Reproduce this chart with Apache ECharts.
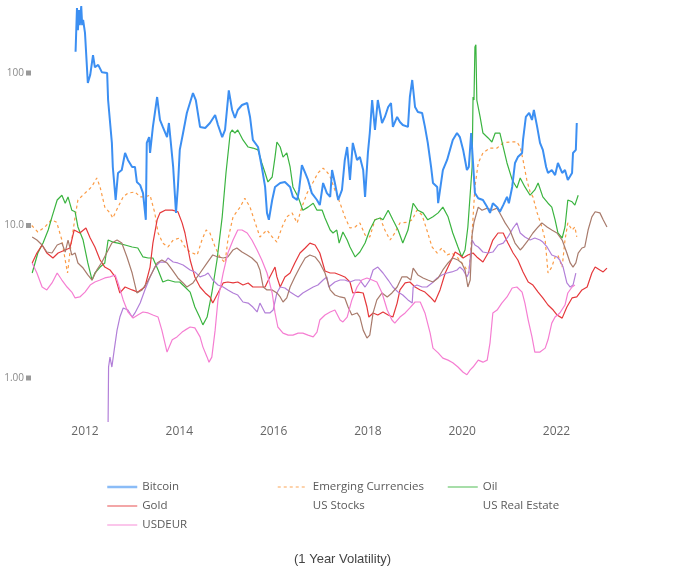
<!DOCTYPE html>
<html>
<head>
<meta charset="utf-8">
<script src="https://cdn.jsdelivr.net/npm/echarts@6/dist/echarts.min.js"></script>
<style>
html,body{margin:0;padding:0;background:#fff;}
#chart{width:686px;height:579px;}
</style>
</head>
<body>
<div id="chart"></div>
<script>
// ---- Data: [year, 1-year volatility] ----
const seriesNames = ['Bitcoin','Emerging Currencies','Oil','Gold','US Stocks','US Real Estate','USDEUR'];
const yTicks = [1, 10, 100];
const yTickLabels = ['1.00', '10.0', '100'];
const xTickYears = [2012, 2014, 2016, 2018, 2020, 2022];

const bitcoin = [
[2011.80,138],[2011.83,267],[2011.85,191],[2011.87,259],[2011.89,206],[2011.92,275],[2011.94,206],[2011.96,223],
[2012.00,183],[2012.06,86],[2012.11,97],[2012.17,131],[2012.21,109],[2012.28,113],[2012.36,101],[2012.47,100],
[2012.49,66.5],[2012.57,34.8],[2012.59,24.2],[2012.65,14.7],[2012.70,22.1],[2012.78,23.1],[2012.85,29.9],[2012.91,26.9],
[2013.00,24.2],[2013.06,24.2],[2013.10,19.3],[2013.17,18.4],[2013.23,16.3],[2013.29,10.9],[2013.31,34.8],[2013.36,38.0],
[2013.38,29.9],[2013.44,44.3],[2013.53,69.6],[2013.59,49.2],[2013.65,44.3],[2013.74,38.0],[2013.78,47.0],[2013.85,28.1],
[2013.87,24.2],[2013.93,12.1],[2013.97,17.9],[2014.01,31.3],[2014.08,40.4],[2014.16,54.7],[2014.29,73.9],[2014.35,66.5],
[2014.44,44.3],[2014.55,43.6],[2014.65,47.0],[2014.76,53.1],[2014.82,45.6],[2014.91,38.0],[2014.97,42.3],[2015.05,77],
[2015.12,57.2],[2015.18,50.7],[2015.24,57.2],[2015.33,61.7],[2015.44,63.6],[2015.50,51.5],[2015.56,36.4],[2015.67,32.7],
[2015.75,24.2],[2015.82,17.9],[2015.86,12.1],[2015.90,10.9],[2015.97,14.7],[2016.03,17.9],[2016.14,19.0],[2016.24,19.3],
[2016.35,17.9],[2016.41,15.4],[2016.50,14.7],[2016.54,17.1],[2016.60,24.9],[2016.67,22.1],[2016.73,19.9],[2016.81,16.3],
[2016.92,14.7],[2016.98,13.6],[2017.05,19.0],[2017.13,16.3],[2017.20,15.4],[2017.24,23.1],[2017.30,19.0],[2017.37,14.7],
[2017.45,17.1],[2017.51,26.9],[2017.56,32.7],[2017.62,19.9],[2017.68,34.8],[2017.77,26.9],[2017.83,28.1],[2017.90,23.1],
[2017.94,15.4],[2018.00,29.9],[2018.04,40.4],[2018.09,66.5],[2018.15,42.3],[2018.21,66.5],[2018.30,47.0],[2018.36,51.5],
[2018.43,59.8],[2018.49,63.6],[2018.53,44.3],[2018.62,51.5],[2018.68,47.7],[2018.74,45.6],[2018.85,44.3],[2018.89,69.6],
[2018.94,90],[2019.00,59.8],[2019.06,55.5],[2019.15,54.7],[2019.21,44.3],[2019.27,34.8],[2019.34,24.2],[2019.38,19.0],
[2019.47,17.9],[2019.49,14.0],[2019.53,17.1],[2019.59,23.1],[2019.68,26.9],[2019.74,31.3],[2019.80,36.4],[2019.89,40.4],
[2019.95,38.0],[2020.02,31.3],[2020.10,23.1],[2020.14,24.2],[2020.19,40.4],[2020.23,25.7],[2020.27,16.3],[2020.34,15.1],
[2020.44,14.7],[2020.53,13.2],[2020.59,12.1],[2020.65,14.0],[2020.74,13.2],[2020.80,12.3],[2020.87,13.6],[2020.95,15.4],
[2020.99,14.0],[2021.06,17.9],[2021.12,25.7],[2021.18,28.1],[2021.27,29.9],[2021.29,36.4],[2021.35,51.5],[2021.42,54.7],
[2021.48,49.2],[2021.52,57.2],[2021.59,44.3],[2021.65,34.8],[2021.71,31.3],[2021.78,24.2],[2021.82,22.1],[2021.90,23.1],
[2021.97,21.4],[2022.03,25.7],[2022.12,22.1],[2022.18,23.1],[2022.24,19.9],[2022.33,22.1],[2022.35,29.9],[2022.41,31.3],
[2022.43,47.0]
];

const emergingCurrencies = [
[2010.87,10.0],[2011.00,9.07],[2011.15,9.78],[2011.29,10.9],[2011.40,10.5],[2011.51,8.03],[2011.58,5.94],[2011.63,4.88],
[2011.68,6.60],[2011.79,11.4],[2011.85,14.7],[2012.00,16.3],[2012.14,17.9],[2012.25,20.5],[2012.32,17.9],[2012.42,13.2],
[2012.53,12.1],[2012.59,11.2],[2012.70,13.2],[2012.81,15.4],[2012.91,16.3],[2013.06,16.6],[2013.17,15.4],[2013.27,15.4],
[2013.38,15.8],[2013.48,12.1],[2013.55,8.93],[2013.65,7.67],[2013.76,7.23],[2013.87,8.03],[2014.01,8.28],[2014.12,7.23],
[2014.23,6.70],[2014.38,6.41],[2014.48,8.03],[2014.57,9.34],[2014.65,8.93],[2014.76,7.23],[2014.86,6.22],[2014.97,5.68],
[2015.03,8.03],[2015.14,11.4],[2015.29,13.2],[2015.39,15.1],[2015.50,13.2],[2015.61,10.4],[2015.71,8.41],[2015.86,9.34],
[2015.97,8.41],[2016.07,7.79],[2016.18,9.78],[2016.28,11.4],[2016.39,12.1],[2016.50,10.4],[2016.60,13.2],[2016.71,16.3],
[2016.84,19.3],[2016.94,22.1],[2017.05,23.8],[2017.15,22.1],[2017.20,20.8],[2017.30,17.1],[2017.41,14.0],[2017.51,11.4],
[2017.62,9.63],[2017.73,9.78],[2017.83,10.4],[2017.94,8.66],[2018.04,8.41],[2018.15,10.9],[2018.26,11.2],[2018.36,9.34],
[2018.47,8.03],[2018.57,8.93],[2018.68,10.4],[2018.83,10.5],[2018.94,10.9],[2019.04,12.6],[2019.15,11.7],[2019.25,9.34],
[2019.36,7.23],[2019.47,6.60],[2019.57,7.12],[2019.68,6.41],[2019.78,6.60],[2019.91,6.12],[2020.06,5.34],[2020.14,4.88],
[2020.21,8.93],[2020.27,17.9],[2020.34,25.7],[2020.44,29.9],[2020.59,32.2],[2020.74,32.2],[2020.87,34.8],[2021.01,35.3],
[2021.16,35.3],[2021.23,32.7],[2021.29,26.9],[2021.37,19.9],[2021.44,16.6],[2021.50,15.4],[2021.59,12.1],[2021.69,9.78],
[2021.76,8.03],[2021.82,4.88],[2021.90,5.34],[2021.97,6.22],[2022.03,6.41],[2022.12,5.34],[2022.18,8.03],[2022.24,10.4],
[2022.33,9.34],[2022.39,9.78],[2022.43,8.41]
];

const oil = [
[2010.88,4.88],[2011.00,6.60],[2011.11,7.67],[2011.22,9.34],[2011.30,11.4],[2011.41,14.7],[2011.51,15.8],[2011.58,14.0],
[2011.64,15.4],[2011.72,12.6],[2011.79,12.3],[2011.85,9.78],[2011.96,8.03],[2012.06,5.68],[2012.15,4.39],[2012.21,4.88],
[2012.32,5.34],[2012.42,5.68],[2012.49,8.03],[2012.59,7.79],[2012.70,7.67],[2012.85,7.45],[2013.00,7.23],[2013.12,7.12],
[2013.23,6.22],[2013.34,6.12],[2013.44,6.12],[2013.55,5.11],[2013.65,4.26],[2013.76,4.39],[2013.91,4.26],[2014.01,4.26],
[2014.12,3.95],[2014.23,3.66],[2014.33,2.92],[2014.44,2.47],[2014.50,2.23],[2014.59,2.51],[2014.69,3.61],[2014.80,5.94],
[2014.91,11.4],[2014.99,22.1],[2015.08,40.4],[2015.12,42.3],[2015.18,40.4],[2015.24,42.3],[2015.35,36.4],[2015.46,32.7],
[2015.56,32.2],[2015.67,31.3],[2015.75,25.7],[2015.82,22.1],[2015.88,19.3],[2015.97,20.8],[2016.03,28.1],[2016.07,35.3],
[2016.14,32.7],[2016.20,28.1],[2016.28,29.9],[2016.35,24.2],[2016.41,17.9],[2016.52,15.4],[2016.62,12.6],[2016.73,13.2],
[2016.84,14.0],[2016.92,12.6],[2017.03,12.6],[2017.09,11.2],[2017.20,9.34],[2017.26,8.93],[2017.34,9.34],[2017.39,7.67],
[2017.47,9.07],[2017.56,8.03],[2017.62,7.23],[2017.73,6.22],[2017.83,6.70],[2017.94,7.67],[2018.04,9.34],[2018.15,10.9],
[2018.26,11.2],[2018.32,10.9],[2018.43,12.6],[2018.53,10.9],[2018.64,9.34],[2018.74,7.67],[2018.85,9.34],[2018.96,14.0],
[2019.06,12.6],[2019.17,12.1],[2019.27,10.9],[2019.38,11.4],[2019.49,12.1],[2019.59,13.2],[2019.70,11.4],[2019.80,8.93],
[2019.91,7.23],[2019.99,6.22],[2020.06,6.91],[2020.12,9.78],[2020.21,24.2],[2020.23,69.7],[2020.25,66.5],[2020.27,148],
[2020.29,153],[2020.31,66.5],[2020.38,51.5],[2020.44,40.4],[2020.55,37.5],[2020.63,35.3],[2020.70,40.4],[2020.80,40.4],
[2020.87,32.7],[2020.95,25.7],[2021.06,19.9],[2021.16,17.6],[2021.23,20.5],[2021.33,17.9],[2021.44,15.8],[2021.54,17.1],
[2021.61,19.0],[2021.71,15.4],[2021.82,14.0],[2021.90,13.2],[2021.97,10.9],[2022.03,8.93],[2022.12,8.28],[2022.18,9.78],
[2022.24,14.7],[2022.33,14.3],[2022.39,13.6],[2022.46,15.8]
];

const gold = [
[2010.88,5.68],[2010.98,6.60],[2011.09,7.45],[2011.19,6.60],[2011.32,6.12],[2011.43,6.60],[2011.58,6.91],[2011.68,7.12],
[2011.77,9.34],[2011.89,8.93],[2012.02,9.63],[2012.11,8.28],[2012.21,7.23],[2012.32,5.94],[2012.42,5.34],[2012.53,5.11],
[2012.64,4.60],[2012.74,3.61],[2012.85,3.95],[2013.00,3.78],[2013.12,3.66],[2013.27,3.95],[2013.38,5.34],[2013.44,7.67],
[2013.53,10.9],[2013.59,12.1],[2013.70,12.6],[2013.85,12.6],[2013.97,12.3],[2014.06,10.4],[2014.12,8.93],[2014.23,5.94],
[2014.33,4.60],[2014.44,3.95],[2014.55,3.61],[2014.65,3.40],[2014.71,3.10],[2014.82,3.61],[2014.93,4.20],[2015.03,4.26],
[2015.14,4.20],[2015.24,4.26],[2015.35,4.07],[2015.46,4.20],[2015.56,3.95],[2015.71,3.95],[2015.82,3.95],[2015.92,4.60],
[2016.03,5.34],[2016.07,4.60],[2016.14,3.95],[2016.24,4.60],[2016.35,4.88],[2016.45,5.68],[2016.56,6.60],[2016.67,7.12],
[2016.77,7.67],[2016.88,7.45],[2016.98,6.60],[2017.09,5.03],[2017.20,4.88],[2017.30,4.88],[2017.41,4.74],[2017.51,4.60],
[2017.62,4.26],[2017.68,3.61],[2017.79,3.66],[2017.90,3.61],[2017.98,2.92],[2018.02,2.51],[2018.11,2.67],[2018.21,2.59],
[2018.32,2.71],[2018.43,2.59],[2018.53,2.51],[2018.62,3.10],[2018.68,3.78],[2018.79,4.20],[2018.89,4.26],[2019.00,3.95],
[2019.11,3.78],[2019.21,3.66],[2019.32,3.40],[2019.42,3.15],[2019.53,3.78],[2019.64,4.88],[2019.74,5.68],[2019.85,6.70],
[2019.95,6.41],[2020.02,6.12],[2020.12,6.41],[2020.23,6.60],[2020.31,6.22],[2020.44,5.76],[2020.55,6.60],[2020.65,8.03],
[2020.76,8.93],[2020.87,8.93],[2020.97,7.67],[2021.08,6.60],[2021.18,5.94],[2021.29,4.96],[2021.40,4.26],[2021.50,4.07],
[2021.61,3.66],[2021.71,3.35],[2021.82,3.01],[2021.93,2.79],[2022.01,2.59],[2022.12,2.47],[2022.22,2.92],[2022.33,3.35],
[2022.43,3.40],[2022.54,3.78],[2022.65,3.95],[2022.75,4.88],[2022.82,5.34],[2022.92,5.11],[2022.99,4.96],[2023.07,5.26]
];

const usStocks = [
[2012.49,0.514],[2012.50,1.18],[2012.53,1.37],[2012.57,1.18],[2012.62,1.53],[2012.68,2.06],[2012.74,2.51],[2012.81,2.88],
[2012.91,2.79],[2013.00,2.51],[2013.06,2.67],[2013.17,3.10],[2013.27,3.78],[2013.38,4.60],[2013.48,5.34],[2013.59,5.76],
[2013.70,5.76],[2013.76,6.12],[2013.87,5.76],[2013.97,5.68],[2014.08,5.51],[2014.23,5.11],[2014.33,4.96],[2014.44,4.60],
[2014.55,4.74],[2014.61,4.88],[2014.71,4.39],[2014.82,4.07],[2014.93,3.95],[2015.03,3.78],[2015.14,3.61],[2015.24,3.50],
[2015.35,3.15],[2015.46,3.10],[2015.56,2.92],[2015.65,2.71],[2015.71,3.10],[2015.82,2.67],[2015.92,2.67],[2015.99,2.79],
[2016.07,3.61],[2016.14,3.95],[2016.24,3.89],[2016.35,3.66],[2016.45,3.50],[2016.52,3.40],[2016.62,3.61],[2016.73,3.78],
[2016.84,3.95],[2016.94,4.07],[2017.05,4.39],[2017.13,4.60],[2017.17,3.95],[2017.30,4.26],[2017.41,4.39],[2017.51,4.39],
[2017.62,4.26],[2017.73,4.39],[2017.83,4.39],[2017.94,3.95],[2018.04,4.39],[2018.11,5.11],[2018.21,5.34],[2018.32,4.88],
[2018.43,4.39],[2018.53,3.95],[2018.64,3.66],[2018.74,3.50],[2018.85,3.25],[2018.94,3.10],[2018.96,3.95],[2019.04,4.07],
[2019.15,3.95],[2019.25,3.95],[2019.36,4.20],[2019.47,4.53],[2019.57,4.74],[2019.68,4.88],[2019.78,4.96],[2019.89,5.11],
[2019.95,5.34],[2020.02,5.11],[2020.10,4.60],[2020.14,4.88],[2020.21,8.03],[2020.27,7.45],[2020.34,7.23],[2020.44,6.70],
[2020.55,6.60],[2020.65,6.70],[2020.76,7.45],[2020.87,7.67],[2020.97,8.41],[2021.08,9.63],[2021.16,10.4],[2021.23,8.93],
[2021.33,8.41],[2021.44,8.03],[2021.54,8.28],[2021.65,8.03],[2021.71,7.79],[2021.80,7.23],[2021.90,6.41],[2022.01,6.22],
[2022.07,5.94],[2022.14,5.34],[2022.22,4.20],[2022.29,3.95],[2022.35,4.07],[2022.41,4.88]
];

const usRealEstate = [
[2010.88,8.41],[2010.98,8.03],[2011.09,7.45],[2011.19,6.70],[2011.30,6.60],[2011.41,7.45],[2011.51,7.67],[2011.58,6.70],
[2011.64,8.03],[2011.72,6.41],[2011.79,6.60],[2011.85,5.68],[2011.96,5.26],[2012.06,4.74],[2012.15,4.39],[2012.25,5.11],
[2012.36,5.76],[2012.47,6.70],[2012.57,7.67],[2012.68,8.03],[2012.78,7.67],[2012.89,6.22],[2013.00,4.88],[2013.10,3.61],
[2013.21,3.78],[2013.31,4.20],[2013.42,4.88],[2013.53,5.68],[2013.63,5.94],[2013.74,5.68],[2013.85,5.11],[2013.97,4.53],
[2014.08,4.20],[2014.16,3.95],[2014.29,4.20],[2014.44,4.88],[2014.59,5.68],[2014.71,6.41],[2014.82,6.22],[2014.93,6.12],
[2015.03,6.22],[2015.14,6.91],[2015.22,7.12],[2015.33,6.70],[2015.44,6.41],[2015.54,6.12],[2015.65,5.68],[2015.71,5.11],
[2015.78,3.95],[2015.86,3.78],[2015.97,3.78],[2016.07,3.61],[2016.14,3.40],[2016.20,3.15],[2016.28,3.35],[2016.35,3.95],
[2016.45,4.60],[2016.56,5.34],[2016.67,6.12],[2016.77,6.41],[2016.88,6.22],[2016.98,5.68],[2017.09,4.88],[2017.20,3.78],
[2017.30,3.50],[2017.41,3.40],[2017.51,3.35],[2017.58,2.92],[2017.66,2.59],[2017.77,2.67],[2017.83,2.51],[2017.90,2.06],
[2017.98,1.83],[2018.04,1.91],[2018.11,2.67],[2018.19,3.25],[2018.30,3.61],[2018.41,3.40],[2018.51,3.61],[2018.62,3.95],
[2018.72,4.60],[2018.83,4.60],[2018.91,4.39],[2018.96,5.26],[2019.06,4.74],[2019.17,4.53],[2019.27,4.39],[2019.38,4.26],
[2019.49,4.53],[2019.59,5.11],[2019.70,5.68],[2019.80,6.12],[2019.91,5.94],[2019.99,5.68],[2020.06,5.11],[2020.12,3.95],
[2020.17,4.39],[2020.21,8.66],[2020.25,10.5],[2020.34,13.2],[2020.42,12.6],[2020.53,13.0],[2020.63,12.6],[2020.74,13.0],
[2020.84,11.4],[2020.91,10.4],[2021.01,9.34],[2021.12,7.67],[2021.23,6.91],[2021.29,7.23],[2021.40,8.03],[2021.50,8.93],
[2021.61,9.78],[2021.69,10.4],[2021.80,9.78],[2021.90,9.34],[2022.01,8.93],[2022.12,8.03],[2022.22,6.60],[2022.29,5.68],
[2022.35,5.34],[2022.41,5.68],[2022.46,6.60],[2022.54,7.12],[2022.60,7.23],[2022.67,9.34],[2022.75,11.4],[2022.82,12.3],
[2022.92,12.1],[2022.99,10.9],[2023.07,9.78]
];

const usdeur = [
[2010.88,5.68],[2010.98,4.88],[2011.09,3.95],[2011.19,3.78],[2011.30,4.20],[2011.41,4.88],[2011.51,4.39],[2011.62,3.95],
[2011.72,3.66],[2011.79,3.35],[2011.89,3.40],[2012.00,3.66],[2012.11,4.07],[2012.21,4.26],[2012.32,4.39],[2012.42,4.53],
[2012.53,4.60],[2012.64,4.74],[2012.70,4.20],[2012.81,3.25],[2012.91,2.71],[2013.02,2.47],[2013.12,2.59],[2013.23,2.71],
[2013.34,2.67],[2013.44,2.59],[2013.55,2.51],[2013.63,2.06],[2013.74,1.48],[2013.85,1.78],[2013.95,1.86],[2014.06,2.00],
[2014.12,2.06],[2014.23,2.16],[2014.33,2.13],[2014.44,1.86],[2014.50,1.60],[2014.59,1.37],[2014.63,1.27],[2014.69,1.37],
[2014.76,2.06],[2014.82,3.25],[2014.93,4.88],[2015.03,6.60],[2015.14,8.03],[2015.24,9.34],[2015.33,9.34],[2015.44,8.93],
[2015.54,8.03],[2015.65,6.91],[2015.75,5.94],[2015.86,4.88],[2015.97,3.61],[2016.03,2.67],[2016.09,2.16],[2016.20,1.97],
[2016.31,1.91],[2016.41,1.91],[2016.52,1.97],[2016.62,1.97],[2016.73,1.91],[2016.84,1.86],[2016.92,2.00],[2016.98,2.40],
[2017.09,2.59],[2017.20,2.71],[2017.30,2.79],[2017.41,2.40],[2017.47,2.33],[2017.56,2.51],[2017.66,3.25],[2017.77,3.95],
[2017.87,4.39],[2017.98,4.53],[2018.09,4.39],[2018.19,4.26],[2018.30,3.61],[2018.41,2.79],[2018.51,2.40],[2018.57,2.29],
[2018.68,2.51],[2018.79,2.67],[2018.89,2.88],[2019.00,3.15],[2019.11,3.15],[2019.21,2.67],[2019.32,1.97],[2019.38,1.57],
[2019.49,1.46],[2019.59,1.35],[2019.70,1.31],[2019.80,1.26],[2019.91,1.18],[2020.02,1.09],[2020.10,1.05],[2020.17,1.13],
[2020.23,1.18],[2020.34,1.31],[2020.44,1.27],[2020.53,1.31],[2020.59,1.70],[2020.65,2.67],[2020.74,2.79],[2020.84,3.10],
[2020.95,3.40],[2021.06,3.89],[2021.16,3.95],[2021.27,3.66],[2021.33,3.10],[2021.40,2.40],[2021.48,1.86],[2021.54,1.48],
[2021.65,1.48],[2021.76,1.57],[2021.82,1.78],[2021.90,2.29],[2021.97,2.51],[2022.07,2.67],[2022.18,3.01],[2022.24,3.61],
[2022.33,3.95],[2022.39,4.07]
];

// ---- Styling ----
const colors = {
  'Bitcoin': '#3c8ff2',
  'Emerging Currencies': '#fb9b45',
  'Oil': '#3bb440',
  'Gold': '#e5383b',
  'US Stocks': '#b27fd8',
  'US Real Estate': '#a87b6c',
  'USDEUR': '#f57ed2'
};
const dataByName = {
  'Bitcoin': bitcoin,
  'Emerging Currencies': emergingCurrencies,
  'Oil': oil,
  'Gold': gold,
  'US Stocks': usStocks,
  'US Real Estate': usRealEstate,
  'USDEUR': usdeur
};

const series = seriesNames.map(name => ({
  name: name,
  type: 'line',
  data: dataByName[name],
  symbol: 'none',
  showSymbol: false,
  animation: false,
  z: name === 'Bitcoin' ? 3 : 2,
  lineStyle: {
    color: colors[name],
    width: name === 'Bitcoin' ? 2 : 1.2,
    type: name === 'Emerging Currencies' ? [3, 3] : 'solid'
  },
  itemStyle: { color: colors[name] },
  emphasis: { disabled: true }
}));

function legendItem(name) {
  const hidden = (name === 'US Stocks' || name === 'US Real Estate');
  return {
    name: name,
    lineStyle: { opacity: hidden ? 0 : 0.6, width: name === 'Bitcoin' ? 2.5 : 1.5 },
    itemStyle: { opacity: 0 }
  };
}
const legendBase = {
  orient: 'vertical',
  top: 481,
  itemWidth: 30,
  itemHeight: 14,
  itemGap: 7,
  padding: 0,
  selectedMode: false,
  textStyle: { color: '#5a5a5a', fontSize: 11.5, fontFamily: 'Open Sans' }
};

const chart = echarts.init(document.getElementById('chart'), null, { renderer: 'canvas' });
chart.setOption({
  backgroundColor: '#fff',
  animation: false,
  title: {
    text: '(1 Year Volatility)',
    left: 289,
    top: 548,
    textStyle: { color: '#444', fontSize: 13, fontWeight: 'normal', fontFamily: 'Liberation Sans' }
  },
  legend: [
    Object.assign({}, legendBase, { left: 106, data: ['Bitcoin', 'Gold', 'USDEUR'].map(legendItem) }),
    Object.assign({}, legendBase, { left: 277, data: ['Emerging Currencies', 'US Stocks'].map(legendItem) }),
    Object.assign({}, legendBase, { left: 447, data: ['Oil', 'US Real Estate'].map(legendItem) })
  ],
  grid: { left: 32, right: 79, top: 0, bottom: 154, containLabel: false },
  xAxis: {
    type: 'value',
    min: 2010.876,
    max: 2023.071,
    splitNumber: 5,
    axisLine: { show: false },
    axisTick: { show: false },
    splitLine: { show: false },
    axisLabel: {
      margin: 1,
      color: '#666',
      fontSize: 12,
      fontFamily: 'Open Sans',
      formatter: v => (xTickYears.indexOf(Math.round(v * 1000) / 1000) >= 0 ? String(Math.round(v)) : '')
    }
  },
  yAxis: {
    type: 'log',
    logBase: 10,
    min: 0.4918,
    max: 301.1,
    axisLine: { show: false },
    axisTick: { show: false },
    splitLine: { show: false },
    axisLabel: {
      margin: 1,
      formatter: v => {
        const i = yTicks.findIndex(t => Math.abs(t - v) / t < 1e-6);
        return i < 0 ? '' : '{t|' + yTickLabels[i] + '}{s|}';
      },
      rich: {
        t: { color: '#8a8a8a', fontSize: 10, fontFamily: 'Open Sans', padding: [0, 2, 0, 0] },
        s: { backgroundColor: '#999', width: 5, height: 5 }
      }
    }
  },
  series: series
});
</script>
</body>
</html>
